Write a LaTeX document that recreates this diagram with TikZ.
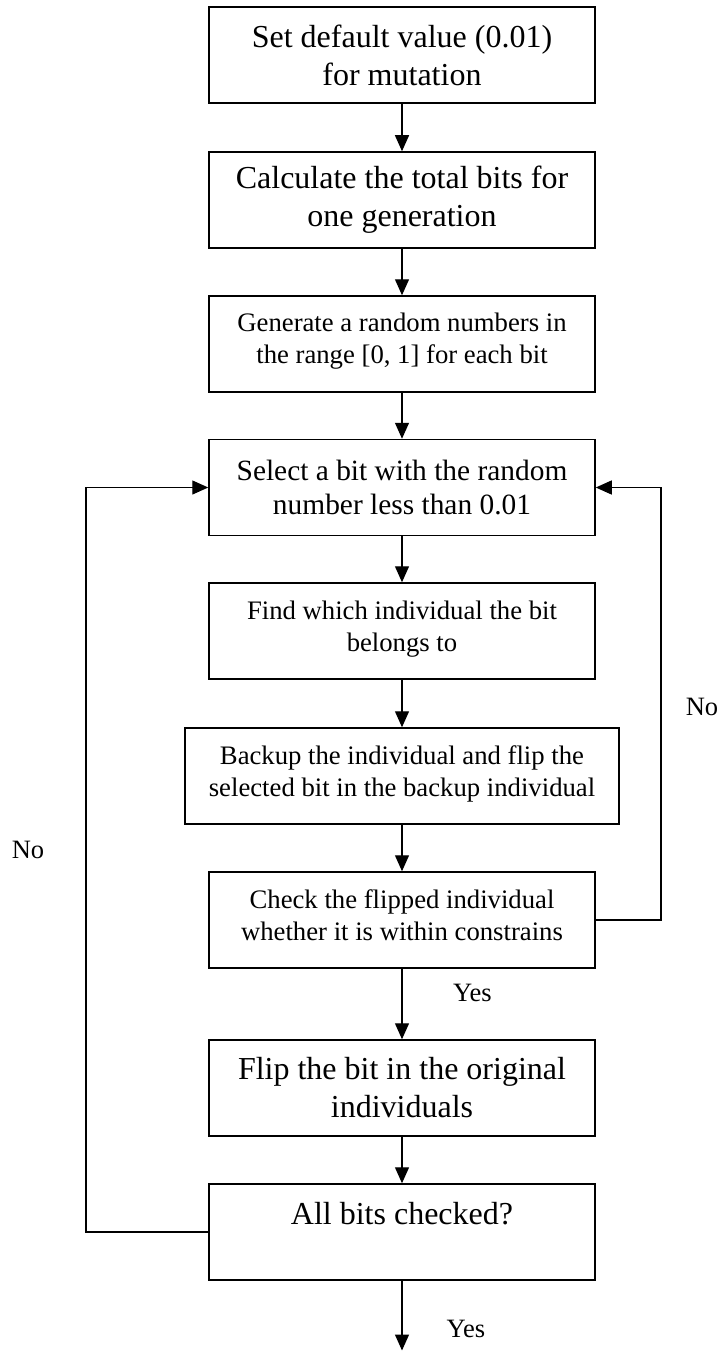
\documentclass[tikz,border=0pt]{standalone}
\usepackage{fontspec}
\setmainfont{Liberation Serif}
\usetikzlibrary{arrows.meta}

\newcommand{\bigtxt}{\fontsize{32}{38}\selectfont}
\newcommand{\midtxt}{\fontsize{29.4}{34}\selectfont}
\newcommand{\smalltxt}{\fontsize{26.7}{31.5}\selectfont}
\newcommand{\labtxt}{\fontsize{26.5}{31}\selectfont}

\tikzset{
  stepbox/.style={draw, line width=1.5pt, rectangle, inner sep=0pt,
    minimum width=386pt, minimum height=96pt, align=center},
  bigbox/.style={stepbox, font=\bigtxt},
  midbox/.style={stepbox, font=\midtxt},
  smallbox/.style={stepbox, font=\smalltxt, text depth=10pt},
  flow/.style={line width=1.3pt, -{Triangle[length=16pt,width=14pt]}},
  looptxt/.style={inner sep=0pt, font=\labtxt}
}

\begin{document}
\begin{tikzpicture}[x=1pt, y=-1pt]
  \useasboundingbox (0,0) rectangle (717,1351);

  % process steps
  \node[bigbox] (b1) at (402,55)   {Set default value (0.01)\\ for mutation};
  \node[bigbox] (b2) at (402,200)  {Calculate the total bits for\\ one generation};
  \node[smallbox, text depth=12pt] (b3) at (402,344)
    {Generate a random numbers in\\ the range [0, 1] for each bit};
  \node[midbox] (b4) at (402,487.5){Select a bit with the random\\ number less than 0.01};
  \node[smallbox] (b5) at (402,631)  {Find which individual the bit\\ belongs to};
  \node[smallbox, minimum width=434pt] (b6) at (402,776)
    {Backup the individual and flip the\\ selected bit in the backup individual};
  \node[smallbox] (b7) at (402,920)  {Check the flipped individual\\ whether it is within constrains};
  \node[bigbox] (b8) at (402,1088) {Flip the bit in the original\\ individuals};
  \node[bigbox] (b9) at (402,1232) {All bits checked?\\ \mbox{}};

  % main flow
  \draw[flow] (b1) -- (b2);
  \draw[flow] (b2) -- (b3);
  \draw[flow] (b3) -- (b4);
  \draw[flow] (b4) -- (b5);
  \draw[flow] (b5) -- (b6);
  \draw[flow] (b6) -- (b7);
  \draw[flow] (b7) -- (b8);
  \draw[flow] (b8) -- (b9);
  \coordinate (fin) at (402,1350.5);
  \draw[flow] (b9) -- (fin);

  % loops back to the selection step
  \coordinate (lb) at (86,1232);
  \coordinate (lt) at (86,487.5);
  \draw[flow] (b9.west) -- (lb) -- (lt) -- (b4.west);
  \coordinate (rb) at (661,920);
  \coordinate (rt) at (661,487.5);
  \draw[flow] (b7.east) -- (rb) -- (rt) -- (b4.east);

  % branch labels
  \node[looptxt] (nol) at (28,850) {No};
  \node[looptxt] (nor) at (702,707) {No};
  \node[looptxt, fill=white, minimum width=99pt, minimum height=48pt, anchor=north]
    (yes1) at (472.5,968.4) {Yes};
  \node[looptxt] (yes2) at (466,1329) {Yes};
\end{tikzpicture}
\end{document}
